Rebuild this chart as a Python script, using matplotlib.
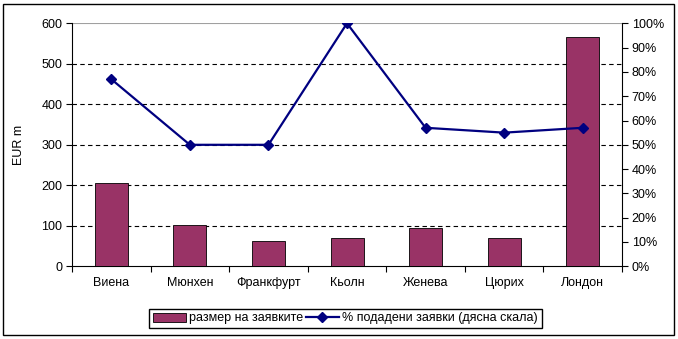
import matplotlib.pyplot as plt
import numpy as np
from matplotlib.patches import Rectangle
from matplotlib.ticker import FixedLocator

plt.rcParams["font.family"] = ["Liberation Sans", "DejaVu Sans"]
plt.rcParams["font.size"] = 9

cities = ["Виена", "Мюнхен", "Франкфурт", "Кьолн", "Женева", "Цюрих", "Лондон"]
bid_size = [205, 101, 62, 69, 94, 69, 565]
pct_submitted = [77, 50, 50, 100, 57, 55, 57]

left_ticks = [0, 100, 200, 300, 400, 500, 600]
right_ticks = list(range(0, 101, 10))

bar_color = "#993366"
line_color = "#000080"

fig = plt.figure(figsize=(6.78, 3.39), dpi=100)
ax = fig.add_axes([72 / 678, 1 - 266.3 / 339, 550 / 678, 243 / 339])
ax2 = ax.twinx()

x = np.arange(len(cities))
ax.bar(x, bid_size, width=0.42, color=bar_color, edgecolor="black", linewidth=0.6,
       zorder=3, label="размер на заявките")
ax.set_xlim(-0.5, len(cities) - 0.5)
ax.set_ylim(0, 600)
ax.set_yticks(left_ticks)
for v in left_ticks[1:-1]:
    ax.axhline(v, color="black", lw=0.8, ls=(0, (4, 3)), zorder=1)
ax.axhline(600, color="#a0a0a0", lw=0.8, zorder=1)

ax.set_xticks(x)
ax.set_xticklabels(cities)
ax.xaxis.set_minor_locator(FixedLocator(np.arange(-0.5, len(cities), 1.0)))
ax.tick_params(axis="x", which="major", length=0, pad=8)
ax.tick_params(axis="x", which="minor", length=4, direction="out", width=0.8)
ax.tick_params(axis="y", length=4, direction="out", width=0.8, pad=3)
ax.set_ylabel("EUR m", labelpad=12)

ax2.plot(x, pct_submitted, color=line_color, lw=1.6, marker="D", markersize=5.5,
         zorder=4, label="% подадени заявки (дясна скала)")
ax2.set_ylim(0, 100)
ax2.set_yticks(right_ticks)
ax2.set_yticklabels([f"{v}%" for v in right_ticks])
ax2.tick_params(axis="y", length=4, direction="out", width=0.8, pad=3)

for a in (ax, ax2):
    a.spines["top"].set_visible(False)
ax.spines["right"].set_visible(False)
ax2.spines["left"].set_visible(False)
ax2.spines["bottom"].set_visible(False)
ax2.spines["right"].set_linewidth(0.8)
ax.spines["left"].set_linewidth(0.8)
ax.spines["bottom"].set_linewidth(0.8)

h1, l1 = ax.get_legend_handles_labels()
h2, l2 = ax2.get_legend_handles_labels()
fig.legend(h1 + h2, l1 + l2, loc="center", bbox_to_anchor=(345.5 / 678, 1 - 318.5 / 339),
           ncol=2, frameon=True, fancybox=False, edgecolor="black", framealpha=1,
           handlelength=2.6, handletextpad=0.3, columnspacing=0.2, borderpad=0.3,
           fontsize=9)

fig.patches.append(Rectangle((3 / 678, 4 / 339), 671 / 678, 331 / 339, transform=fig.transFigure,
                             fill=False, edgecolor="black", lw=1.0))

fig.savefig("out.png", dpi=100)
